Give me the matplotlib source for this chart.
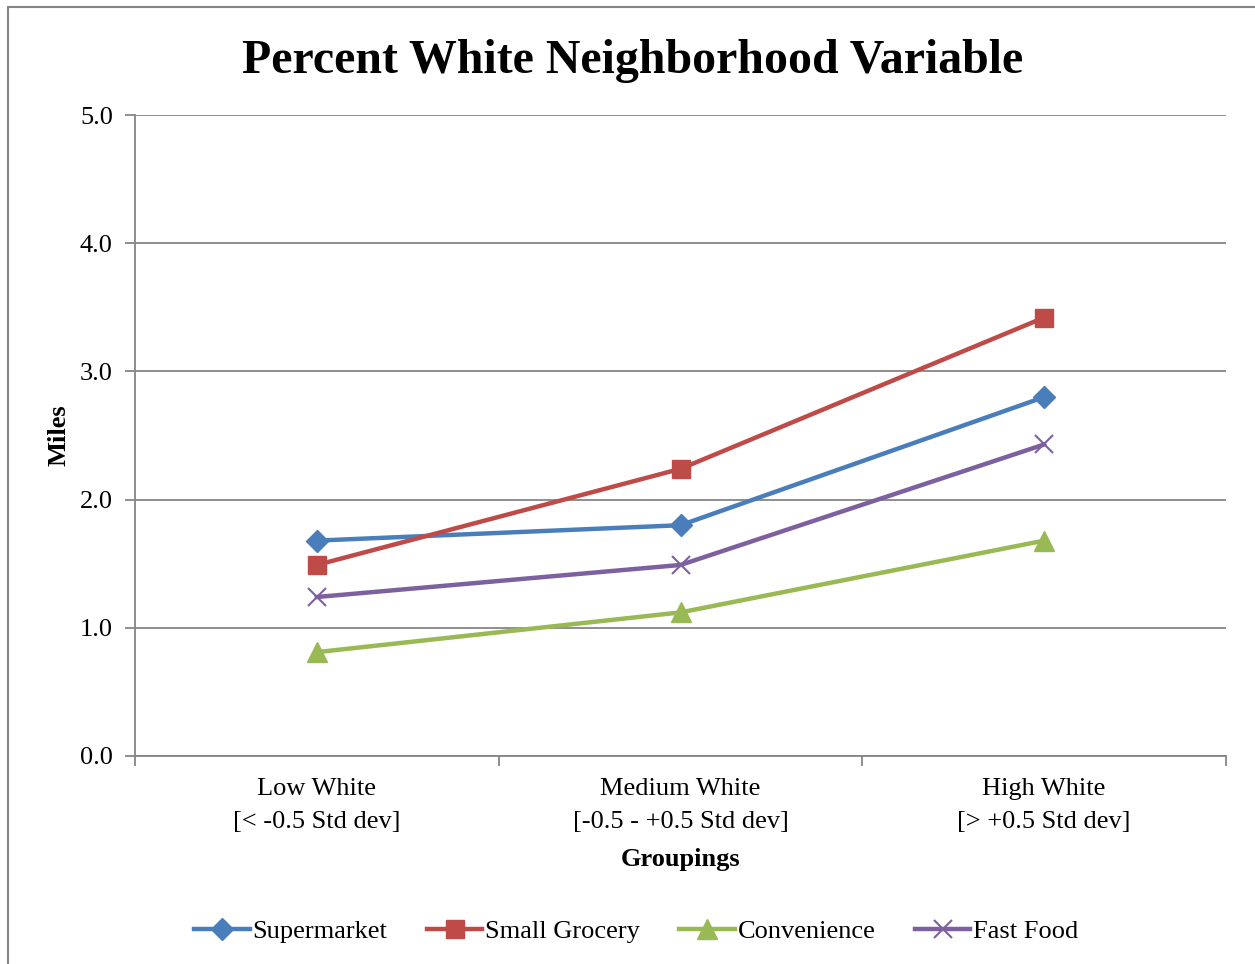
import numpy as np
import matplotlib.pyplot as plt
from matplotlib.patches import Rectangle

plt.rcParams['font.family'] = ['Liberation Serif', 'DejaVu Serif']

# Groupings along the x axis
groups = ["Low White\n[< -0.5 Std dev]",
          "Medium White\n[-0.5 - +0.5 Std dev]",
          "High White\n[> +0.5 Std dev]"]

# Average distance (miles) for each store type
supermarket = [1.68, 1.80, 2.80]
small_grocery = [1.49, 2.24, 3.42]
convenience = [0.81, 1.12, 1.68]
fast_food = [1.24, 1.49, 2.43]

series = [
    ("Supermarket", supermarket, "#4A7EBB", "D", 11),
    ("Small Grocery", small_grocery, "#BE4B48", "s", 13),
    ("Convenience", convenience, "#98B954", "^", 14),
    ("Fast Food", fast_food, "#7D60A0", "x", 13),
]

fig = plt.figure(figsize=(12.55, 9.64), dpi=100)
ax = fig.add_axes([0.1076, 0.2158, 0.8693, 0.6649])

# outer chart border
fig.patches.append(Rectangle((8 / 1255, -0.1), 1.2, 957 / 964 + 0.1,
                             transform=fig.transFigure, fill=False,
                             edgecolor="#868686", linewidth=1.5))

x = np.arange(len(groups)) + 0.5
for name, vals, col, mk, ms in series:
    ax.plot(x, vals, color=col, linewidth=3.2, marker=mk, markersize=ms,
            markeredgewidth=1.5 if mk == "x" else 1.0,
            markeredgecolor=col, markerfacecolor=col, label=name)

ax.set_xlim(0, 3)
ax.set_ylim(0, 5)
ax.set_yticks(np.arange(0, 5.01, 1.0))
ax.set_yticklabels([f"{v:.1f}" for v in np.arange(0, 5.01, 1.0)], fontsize=19)
ax.yaxis.grid(True, color="#868686", linewidth=1.3)
ax.set_axisbelow(True)

# category labels between boundary ticks
ax.set_xticks([0, 1, 2, 3])
ax.set_xticklabels([])
ax.set_xticks(x, minor=True)
ax.set_xticklabels(groups, minor=True, fontsize=19, linespacing=1.62)
ax.tick_params(axis="x", which="minor", length=0, pad=16)
ax.tick_params(axis="x", which="major", length=7, color="#868686", width=1.3)
ax.tick_params(axis="y", length=7, color="#868686", width=1.3, pad=9)

for s in ["top", "right"]:
    ax.spines[s].set_visible(False)
for s in ["left", "bottom"]:
    ax.spines[s].set_color("#868686")
    ax.spines[s].set_linewidth(1.3)

ax.set_xlabel("Groupings", fontsize=19, fontweight="bold", labelpad=11)
ax.set_ylabel("Miles", fontsize=19, fontweight="bold", labelpad=7)

fig.text(0.504, 0.937, "Percent White Neighborhood Variable", fontsize=34.5,
         fontweight="bold", ha="center", va="center")

fig.legend(loc="center", bbox_to_anchor=(0.507, 0.034), ncol=4, frameon=False,
           fontsize=19, handlelength=2.1, handletextpad=0.1, columnspacing=1.5)

fig.savefig("out.png", dpi=100)
